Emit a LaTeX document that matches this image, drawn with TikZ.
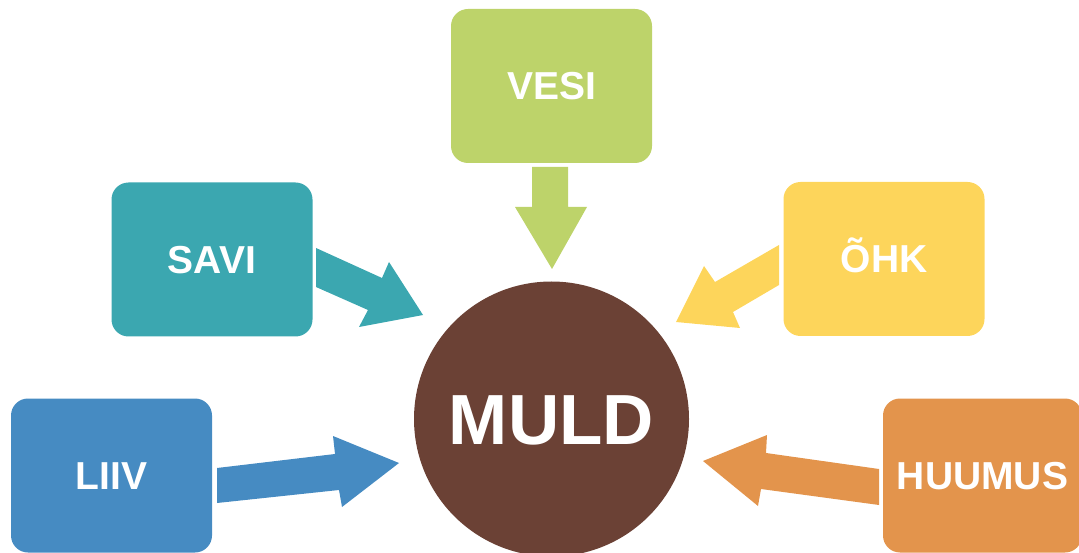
\documentclass[tikz,border=0pt]{standalone}
\usepackage{fontspec}
\setmainfont{Liberation Sans}
\definecolor{vesigruen}{HTML}{BDD36A}
\definecolor{savitürkis}{HTML}{3BA7B0}
\definecolor{ohkgelb}{HTML}{FDD55B}
\definecolor{liivblau}{HTML}{468BC2}
\definecolor{huumusorange}{HTML}{E3944C}
\definecolor{muldbraun}{HTML}{6B4135}
\begin{document}
\begin{tikzpicture}[x=1pt,y=-1pt,
    kasten/.style={rounded corners=17pt, minimum width=201pt, minimum height=154pt,
      inner sep=0pt, text=white, text height=28pt, text depth=0pt,
      font=\fontsize{39}{39}\selectfont\bfseries}]
    \useasboundingbox (0,0) rectangle (1079,553);

    % Kästen
    \node[kasten, fill=vesigruen] (vesi) at (551.5,86) {VESI};
    \node[kasten, fill=savitürkis] (savi) at (212,259.5) {SAVI};
    \node[kasten, fill=ohkgelb] (ohk) at (884,259) {ÕHK};
    \node[kasten, fill=liivblau] (liiv) at (111.5,475.5) {LIIV};
    \node[kasten, fill=huumusorange, minimum width=199pt] (huumus) at (982.5,475.5) {HUUMUS};

    % Kreis
    \node[circle, fill=muldbraun, minimum size=275pt, inner sep=0pt, text=white,
      text height=51pt, text depth=0pt, font=\fontsize{71}{71}\selectfont\bfseries] (muld) at (551.5,419) {MULD};

    % Pfeile
    \fill[vesigruen] (532,167) -- (568,167) -- (568,207) -- (587,207) -- (552,269) -- (515,207) -- (532,207) -- cycle; % VESI
    \fill[savitürkis] (316,248) -- (382,278) -- (389,262) -- (423,315) -- (359,327) -- (368,310) -- (316,287) -- cycle; % SAVI
    \fill[ohkgelb] (779,245) -- (715,282) -- (704,266) -- (676,322) -- (740,328) -- (733,312) -- (779,285) -- cycle; % ÕHK
    \fill[liivblau] (217,468) -- (335,454) -- (333,436) -- (399,463) -- (342,507) -- (339,490) -- (217,503) -- cycle; % LIIV
    \fill[huumusorange] (879,469) -- (766,453) -- (767,435) -- (703,461) -- (758,506) -- (761,489) -- (879,505) -- cycle; % HUUMUS

  \end{tikzpicture}
\end{document}
